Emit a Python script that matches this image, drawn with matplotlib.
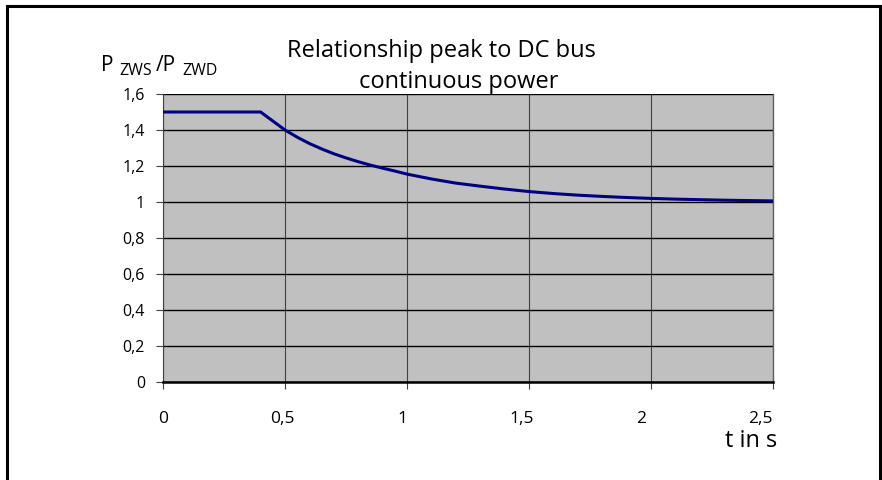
import numpy as np
import matplotlib
matplotlib.use("Agg")
import matplotlib.pyplot as plt
import matplotlib.transforms as mtransforms
from matplotlib.patches import Rectangle

plt.rcParams['font.family'] = ['Open Sans', 'DejaVu Sans']

# values
t_s = [0.0, 0.4, 0.45, 0.5, 0.55, 0.6, 0.65, 0.7, 0.75, 0.8, 0.85, 0.9, 0.95,
       1.0, 1.1, 1.2, 1.3, 1.4, 1.5, 1.6, 1.7, 1.8, 1.9, 2.0, 2.1, 2.2, 2.3, 2.4, 2.5]
ratio = [1.5, 1.5, 1.45, 1.40, 1.36, 1.325, 1.295, 1.268, 1.245, 1.224, 1.205, 1.188, 1.172,
         1.155, 1.128, 1.105, 1.088, 1.072, 1.058, 1.047, 1.038, 1.031, 1.025, 1.02,
         1.016, 1.013, 1.01, 1.008, 1.006]

x_ticks = [0, 0.5, 1, 1.5, 2, 2.5]
x_labels = ['0', '0,5', '1', '1,5', '2', '2,5']
y_ticks = [0, 0.2, 0.4, 0.6, 0.8, 1, 1.2, 1.4, 1.6]
y_labels = ['0', '0,2', '0,4', '0,6', '0,8', '1', '1,2', '1,4', '1,6']

fig = plt.figure(figsize=(8.82, 4.8), dpi=100)
ax = fig.add_axes([163 / 882, 98 / 480, 610 / 882, 288 / 480])
ax.set_facecolor('#c0c0c0')

ax.plot(t_s, ratio, color='#000080', lw=2.2, zorder=3)

ax.set_xlim(0, 2.5)
ax.set_ylim(0, 1.6)
ax.set_xticks(x_ticks)
ax.set_xticklabels(x_labels)
ax.set_yticks(y_ticks)
ax.set_yticklabels(y_labels)

ax.grid(axis='y', color='black', lw=1.0, zorder=1)
ax.grid(axis='x', color='#404040', lw=0.8, zorder=1)
ax.set_axisbelow(True)

for side in ['top', 'right']:
    ax.spines[side].set_visible(False)
ax.spines['left'].set_color('#404040')
ax.spines['left'].set_linewidth(0.8)
ax.spines['bottom'].set_linewidth(1.8)
ax.axvline(2.5, color='#606060', lw=1.0, zorder=2, clip_on=False)

ax.tick_params(axis='x', direction='out', length=5, width=0.8, color='#404040',
               pad=16, labelsize=12.5)
ax.tick_params(axis='y', direction='out', length=5, width=0.8, color='#404040',
               pad=8, labelsize=11.5)

# shift x tick labels slightly left, as in the reference
for tick_val, lab in zip(x_ticks, ax.get_xticklabels()):
    off = mtransforms.ScaledTranslation(-5.0 * tick_val / 100, 0, fig.dpi_scale_trans)
    lab.set_transform(lab.get_transform() + off)

fig.text(441 / 882, 1 - 57 / 480, 'Relationship peak to DC bus',
         ha='center', va='baseline', fontsize=17)
fig.text(459 / 882, 1 - 88 / 480, 'continuous power',
         ha='center', va='baseline', fontsize=17)

# y axis caption P_ZWS / P_ZWD with Excel-like subscripts
fig.text(101 / 882, 1 - 71 / 480, 'P', ha='left', va='baseline', fontsize=15)
fig.text(119 / 882, 1 - 75 / 480, 'ZWS', ha='left', va='baseline', fontsize=11.5)
fig.text(156 / 882, 1 - 71 / 480, '/P', ha='left', va='baseline', fontsize=15)
fig.text(182 / 882, 1 - 75 / 480, 'ZWD', ha='left', va='baseline', fontsize=11.5)

fig.text(777 / 882, 1 - 447 / 480, 't in s', ha='right', va='baseline', fontsize=17)

fig.patches.append(Rectangle((7 / 882, -0.05), 873 / 882, 1.05 - 6 / 480,
                             transform=fig.transFigure, fill=False,
                             edgecolor='black', lw=2.2))

fig.savefig('out.png', dpi=100)
